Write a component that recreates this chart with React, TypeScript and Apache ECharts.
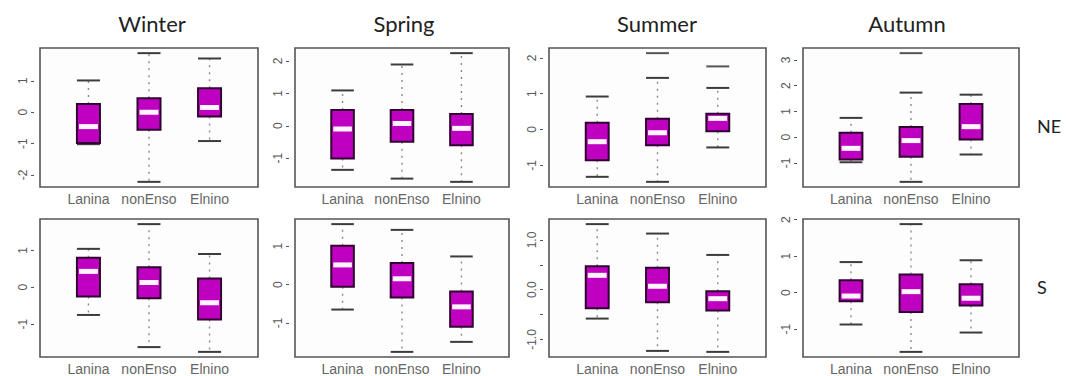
import React, { useEffect, useRef } from 'react';
import * as echarts from 'echarts';

const seasons = ['Winter', 'Spring', 'Summer', 'Autumn'];
const regions = ['NE', 'S'];
const groups = ['Lanina', 'nonEnso', 'Elnino'];

// each box: [lower whisker, Q1, median, Q3, upper whisker]
const winterNE = [[-1.02, -0.98, -0.46, 0.26, 1.01], [-2.22, -0.56, 0.0, 0.44, 1.88], [-0.92, -0.14, 0.15, 0.76, 1.71]];
const springNE = [[-1.36, -1.01, -0.10, 0.49, 1.09], [-1.63, -0.49, 0.07, 0.49, 1.89], [-1.73, -0.60, -0.08, 0.36, 2.24]];
const summerNE = [[-1.32, -0.86, -0.34, 0.19, 0.92], [-1.46, -0.44, -0.09, 0.30, 1.44], [-0.50, -0.05, 0.31, 0.44, 1.16]];
const autumnNE = [[-0.97, -0.86, -0.43, 0.17, 0.75], [-1.73, -0.76, -0.13, 0.40, 1.73], [-0.67, -0.09, 0.41, 1.29, 1.65]];
const winterS = [[-0.75, -0.25, 0.43, 0.80, 1.04], [-1.62, -0.30, 0.13, 0.54, 1.71], [-1.75, -0.87, -0.42, 0.24, 0.90]];
const springS = [[-0.65, -0.06, 0.51, 1.01, 1.57], [-1.75, -0.34, 0.15, 0.56, 1.42], [-1.49, -1.10, -0.58, -0.18, 0.73]];
const summerS = [[-0.58, -0.37, 0.29, 0.47, 1.32], [-1.23, -0.25, 0.07, 0.44, 1.13], [-1.25, -0.42, -0.18, -0.03, 0.70]];
const autumnS = [[-0.87, -0.23, -0.09, 0.34, 0.84], [-1.62, -0.53, 0.03, 0.50, 1.88], [-1.09, -0.35, -0.15, 0.23, 0.89]];

// outliers: [group position, value]
const summerNEOut = [[2, 2.13], [3, 1.76]];
const autumnNEOut = [[2, 3.26]];

// y tick values and labelled values
const ticksWinterNE = [-2, -1, 0, 1];
const ticksSpringNE = [-1, 0, 1, 2];
const ticksSummerNE = [-1, 0, 1, 2];
const ticksAutumnNE = [-1, 0, 1, 2, 3];
const ticksWinterS = [-1, 0, 1];
const ticksSpringS = [-1, 0, 1];
const ticksSummerS = [-1, -0.5, 0, 0.5, 1];
const labelsSummerS = [-1, 0, 1];
const ticksAutumnS = [-1, 0, 1, 2];

const panels = [
  { row: 0, col: 0, boxes: winterNE, out: [], ticks: ticksWinterNE, labels: ticksWinterNE, digits: 0 },
  { row: 0, col: 1, boxes: springNE, out: [], ticks: ticksSpringNE, labels: ticksSpringNE, digits: 0 },
  { row: 0, col: 2, boxes: summerNE, out: summerNEOut, ticks: ticksSummerNE, labels: ticksSummerNE, digits: 0 },
  { row: 0, col: 3, boxes: autumnNE, out: autumnNEOut, ticks: ticksAutumnNE, labels: ticksAutumnNE, digits: 0 },
  { row: 1, col: 0, boxes: winterS, out: [], ticks: ticksWinterS, labels: ticksWinterS, digits: 0 },
  { row: 1, col: 1, boxes: springS, out: [], ticks: ticksSpringS, labels: ticksSpringS, digits: 0 },
  { row: 1, col: 2, boxes: summerS, out: [], ticks: ticksSummerS, labels: labelsSummerS, digits: 1 },
  { row: 1, col: 3, boxes: autumnS, out: [], ticks: ticksAutumnS, labels: ticksAutumnS, digits: 0 },
];

const colLeft = [40, 295, 549, 803];
const colWidth = [218, 214, 217, 216];
const rowTop = [48, 219];
const rowHeight = [139, 138];
const titleX = [152, 404, 657, 907];
const regionY = [126, 287];

const BOX_W = 0.38;
const FILL = '#C000C0';
const BORDER = '#300030';

function renderBox(params: any, api: any) {
  const x = api.value(0);
  const lo = api.value(1), q1 = api.value(2), med = api.value(3), q3 = api.value(4), hi = api.value(5);
  const pLo = api.coord([x, lo]);
  const pQ1 = api.coord([x, q1]);
  const pMed = api.coord([x, med]);
  const pQ3 = api.coord([x, q3]);
  const pHi = api.coord([x, hi]);
  const w = api.size([BOX_W, 0])[0];
  const cx = pMed[0];
  const whisk = { stroke: '#8a8a8a', lineWidth: 1.4, lineDash: [2, 5] };
  const staple = { stroke: '#3c3c3c', lineWidth: 2 };
  return {
    type: 'group',
    children: [
      { type: 'line', shape: { x1: cx, y1: pQ1[1], x2: cx, y2: pLo[1] }, style: whisk },
      { type: 'line', shape: { x1: cx, y1: pQ3[1], x2: cx, y2: pHi[1] }, style: whisk },
      { type: 'line', shape: { x1: cx - w / 2, y1: pLo[1], x2: cx + w / 2, y2: pLo[1] }, style: staple },
      { type: 'line', shape: { x1: cx - w / 2, y1: pHi[1], x2: cx + w / 2, y2: pHi[1] }, style: staple },
      {
        type: 'rect',
        shape: { x: cx - w / 2, y: pQ3[1], width: w, height: pQ1[1] - pQ3[1] },
        style: { fill: FILL, stroke: BORDER, lineWidth: 2 },
      },
      {
        type: 'rect',
        shape: { x: cx - w / 2 + 2, y: pMed[1] - 2.5, width: w - 4, height: 5 },
        style: { fill: '#fff4ff' },
      },
    ],
  };
}

function renderOut(params: any, api: any) {
  const p = api.coord([api.value(0), api.value(1)]);
  const w = api.size([BOX_W, 0])[0];
  return {
    type: 'line',
    shape: { x1: p[0] - w / 2, y1: p[1], x2: p[0] + w / 2, y2: p[1] },
    style: { stroke: '#555', lineWidth: 2 },
  };
}

export default function App() {
  const ref = useRef<HTMLDivElement>(null);
  useEffect(() => {
    if (!ref.current) return;
    const chart = echarts.init(ref.current, null, { renderer: 'svg' });
    const grid: any[] = [];
    const xAxis: any[] = [];
    const yAxis: any[] = [];
    const series: any[] = [];
    panels.forEach((p, i) => {
      const vals: number[] = [];
      p.boxes.forEach((b) => vals.push(...b));
      p.out.forEach((o) => vals.push(o[1]));
      const lo = Math.min(...vals);
      const hi = Math.max(...vals);
      const ext = (hi - lo) * 0.04;
      grid.push({
        left: colLeft[p.col],
        top: rowTop[p.row],
        width: colWidth[p.col],
        height: rowHeight[p.row],
        show: true,
        borderColor: '#555',
        borderWidth: 1.6,
        backgroundColor: '#fdfdfd',
      });
      xAxis.push({
        gridIndex: i,
        type: 'value',
        min: 0.2,
        max: 3.8,
        axisLine: { show: false },
        axisTick: { show: false },
        splitLine: { show: false },
        axisLabel: {
          customValues: [1, 2, 3],
          formatter: (v: number) => groups[Math.round(v) - 1],
          color: '#666',
          fontSize: 14,
          fontFamily: 'Liberation Sans',
          margin: 5,
        },
      });
      yAxis.push({
        gridIndex: i,
        type: 'value',
        min: lo - ext,
        max: hi + ext,
        offset: 6,
        axisLine: { show: false },
        splitLine: { show: false },
        axisTick: { show: true, customValues: p.ticks, length: 3, lineStyle: { color: '#555', width: 1 } },
        axisLabel: {
          customValues: p.labels,
          rotate: 90,
          margin: 5,
          color: '#555',
          fontSize: 12,
          fontFamily: 'Liberation Sans',
          formatter: (v: number) => v.toFixed(p.digits),
        },
      });
      series.push({
        type: 'custom',
        xAxisIndex: i,
        yAxisIndex: i,
        silent: true,
        data: p.boxes.map((b, j) => [j + 1, ...b]),
        encode: { x: 0, y: [1, 2, 3, 4, 5] },
        renderItem: renderBox,
      });
      if (p.out.length) {
        series.push({
          type: 'custom',
          xAxisIndex: i,
          yAxisIndex: i,
          silent: true,
          data: p.out,
          encode: { x: 0, y: 1 },
          renderItem: renderOut,
        });
      }
    });
    const graphic: any[] = [];
    seasons.forEach((s, c) => {
      graphic.push({
        type: 'text',
        x: titleX[c],
        y: 23,
        style: { text: s, font: '22px Lato', fill: '#222', textAlign: 'center', textVerticalAlign: 'middle' },
      });
    });
    regions.forEach((r, k) => {
      graphic.push({
        type: 'text',
        x: 1037,
        y: regionY[k],
        style: { text: r, font: '18px Lato', fill: '#222', textAlign: 'left', textVerticalAlign: 'middle' },
      });
    });
    chart.setOption({
      animation: false,
      backgroundColor: '#ffffff',
      grid,
      xAxis,
      yAxis,
      series,
      graphic,
    });
    return () => chart.dispose();
  }, []);
  return (
    <div
      ref={ref}
      style={{ position: 'absolute', left: 0, top: 0, width: 1067, height: 376, background: '#fff' }}
    />
  );
}
